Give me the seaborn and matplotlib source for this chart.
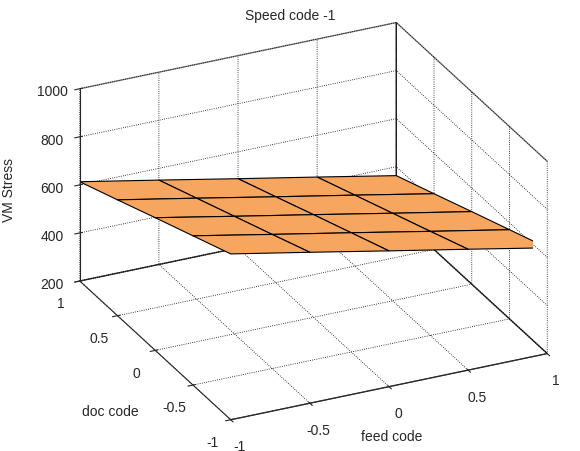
import numpy as np
import matplotlib
matplotlib.use("Agg")
import matplotlib.pyplot as plt
import seaborn as sns

sns.set_style("white")
plt.rcParams['font.family'] = ['Liberation Sans', 'DejaVu Sans']

feed = [-1, -0.5, 0, 0.5, 1]
doc = [-1, -0.5, 0, 0.5, 1]
# rows: doc (-1..1), cols: feed (-1..1)
stress = [
    [890, 828, 765, 703, 640],
    [821, 758, 696, 633, 571],
    [752, 689, 627, 564, 502],
    [682, 620, 557, 495, 432],
    [613, 551, 488, 426, 363],
]

F, D = np.meshgrid(feed, doc)
Z = np.array(stress, dtype=float)

fig = plt.figure(figsize=(5.8, 4.52), dpi=100)
ax = fig.add_axes([0.03, -0.005, 1.0, 1.0], projection='3d')
ax.set_proj_type('ortho')
ax.set_box_aspect((1, 1, 0.61), zoom=1.16)
ax.plot_surface(F, D, Z, color='#f7a660', edgecolor='black', linewidth=0.8, shade=False)
ax.set_xlim(-1, 1); ax.set_ylim(-1, 1); ax.set_zlim(200, 1000)
ax.set_xticks(feed); ax.set_xticklabels(['-1', '-0.5', '0', '0.5', '1'])
ax.set_yticks(doc); ax.set_yticklabels(['-1', '-0.5', '0', '0.5', '1'])
ax.set_zticks([200, 400, 600, 800, 1000])
ax.tick_params(labelsize=10, pad=2)
for a in (ax.xaxis, ax.yaxis, ax.zaxis):
    a.pane.fill = False
    a.pane.set_edgecolor('black')
    a._axinfo['grid'].update(color='black', linestyle=':', linewidth=0.6)
ax.view_init(elev=26, azim=-115.5)
fig.text(0.19, 0.08, 'doc code', fontsize=10, ha='center')
fig.text(0.675, 0.025, 'feed code', fontsize=10, ha='center')
fig.text(0.004, 0.58, 'VM Stress', fontsize=10, rotation=90, va='center')
fig.text(0.5, 0.955, 'Speed code -1', fontsize=10, ha='center')
fig.savefig('out.png', dpi=100)
